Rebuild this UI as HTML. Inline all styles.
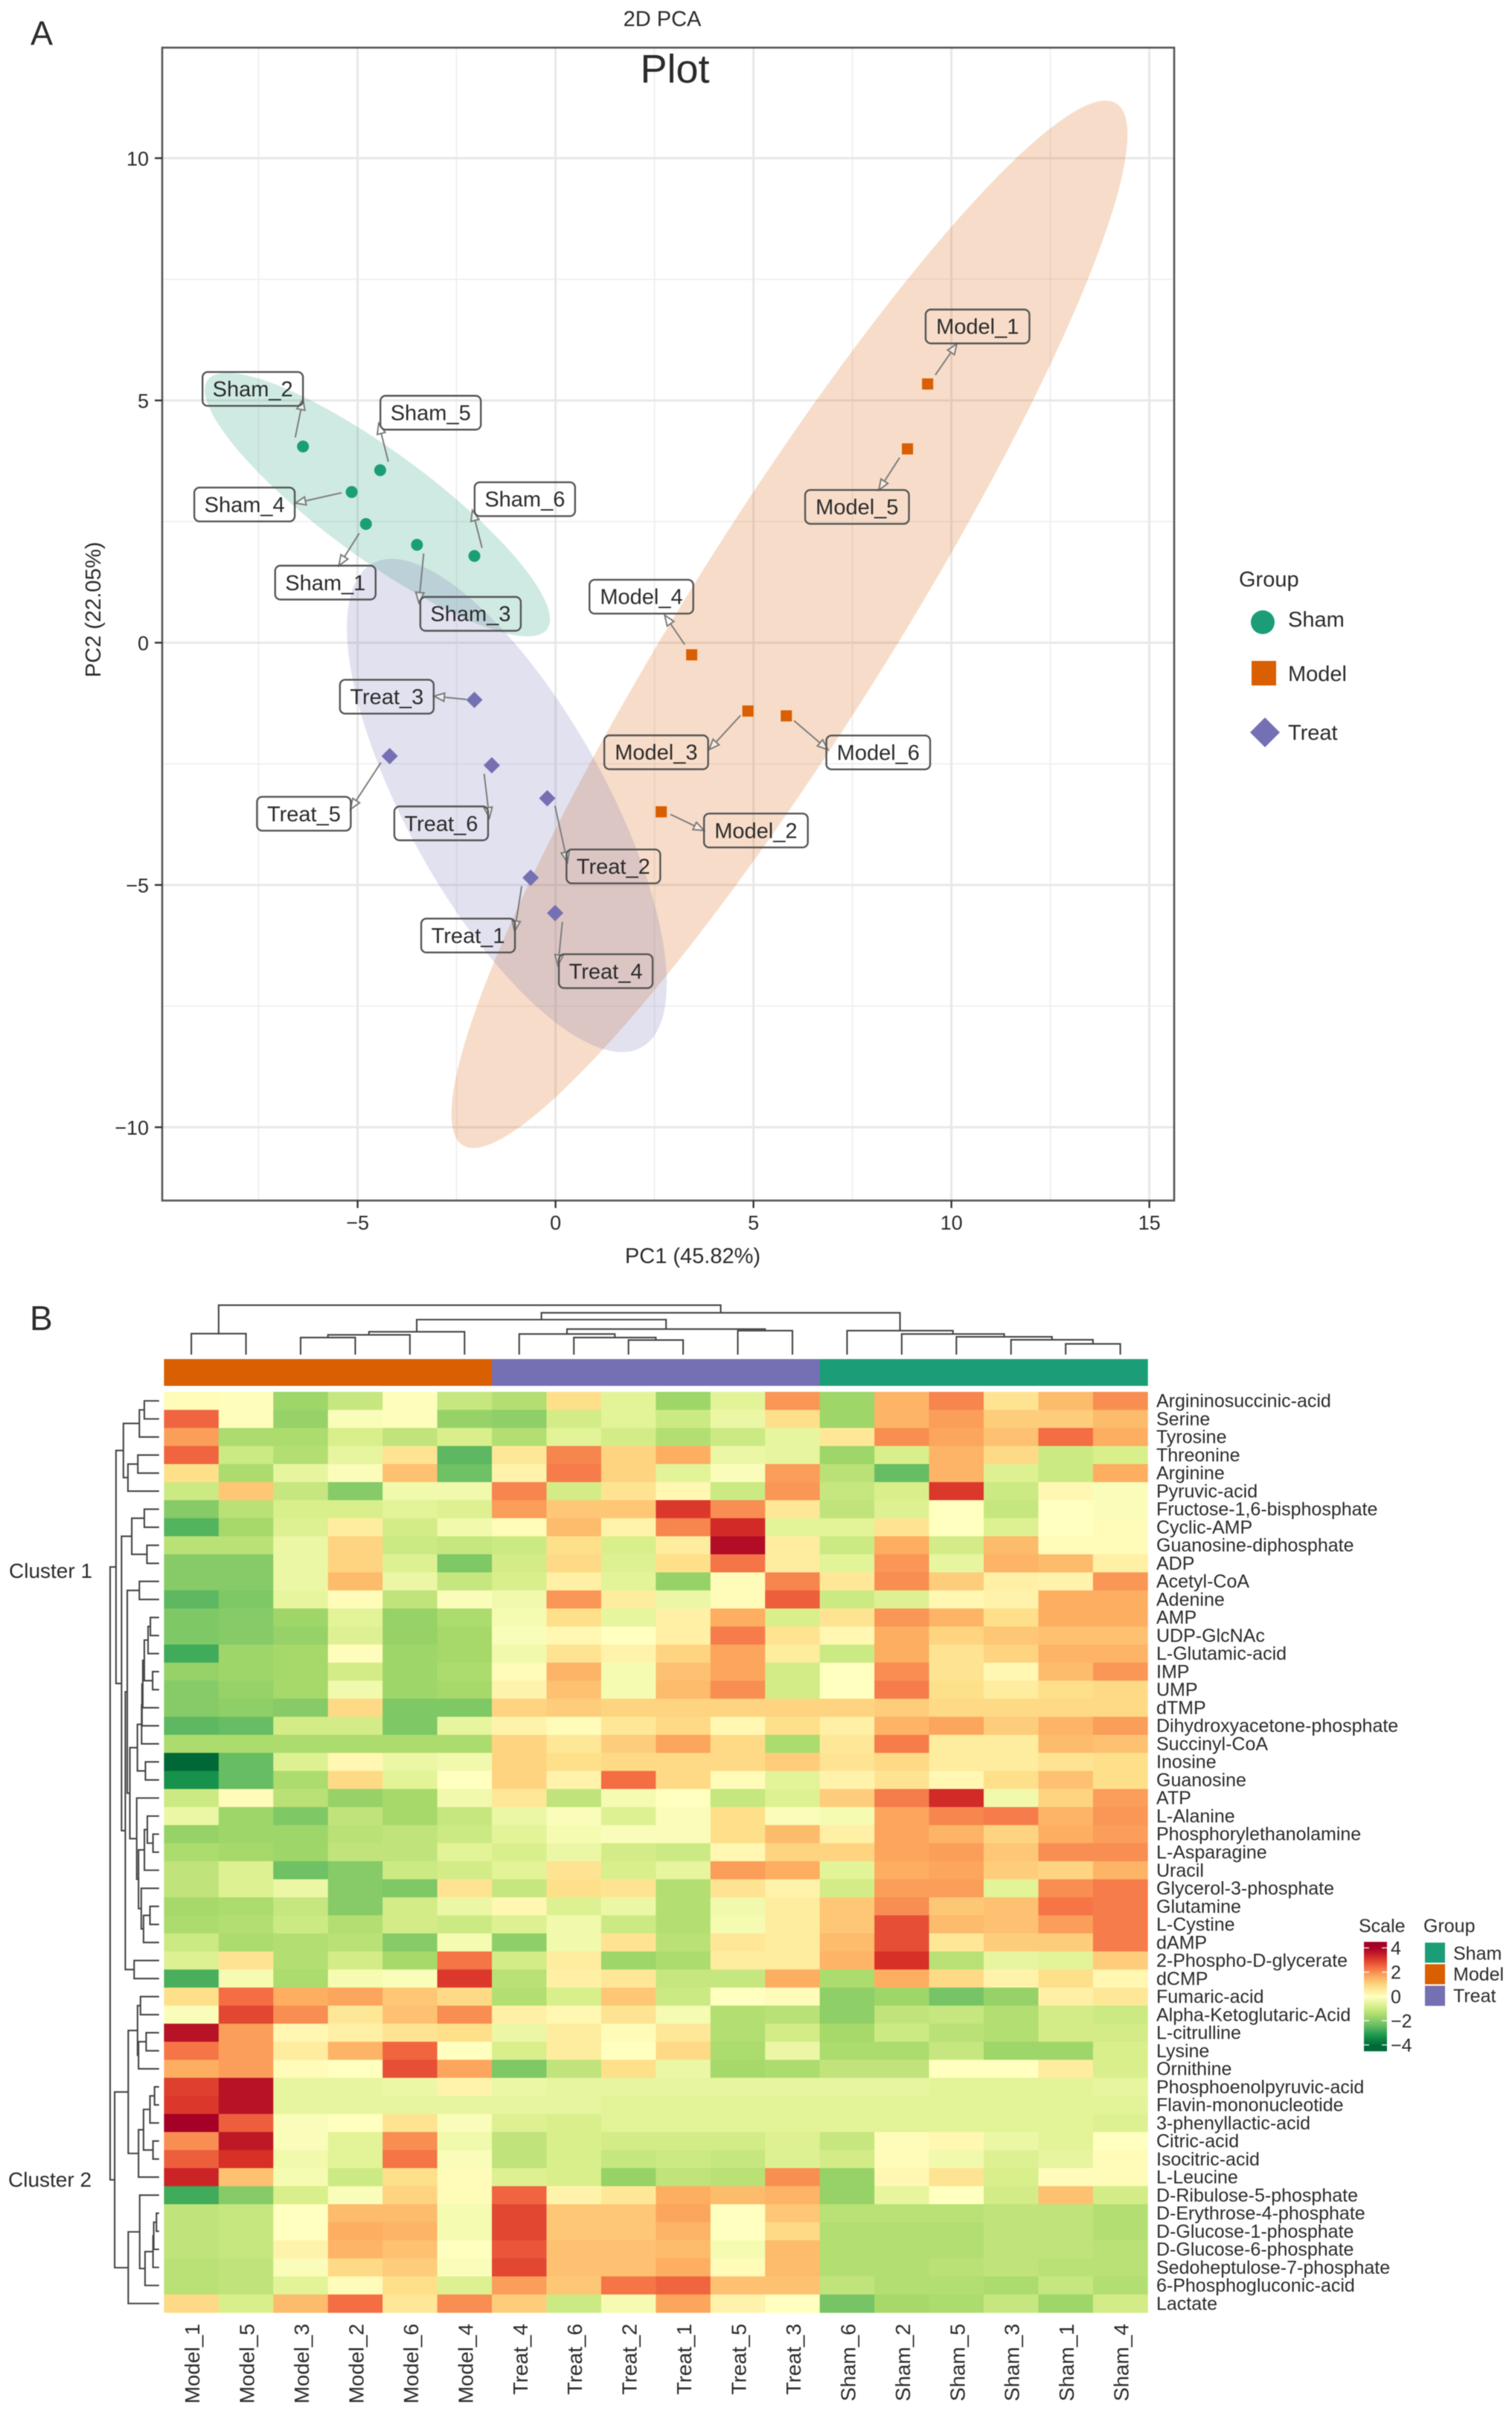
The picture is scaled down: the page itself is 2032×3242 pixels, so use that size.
<!DOCTYPE html>
<html lang="en">
<head>
<meta charset="utf-8">
<title>2D PCA and metabolite heatmap</title>
<style>
html,body{margin:0;padding:0;background:#fff;width:2032px;height:3242px;overflow:hidden}
svg{display:block;filter:blur(.6px)}
text{font-family:"Liberation Sans",sans-serif;fill:#2b2b2b}
</style>
</head>
<body>
<svg id="figure" xmlns="http://www.w3.org/2000/svg" width="2032" height="3242" viewBox="0 0 2032 3242">
  <defs>
    <linearGradient id="scale-gradient" x1="0" y1="0" x2="0" y2="1"></linearGradient>
  </defs>
  <rect x="0" y="0" width="2032" height="3242" fill="#fff"/>
  <text x="41" y="60" font-size="45" fill="#111">A</text>
  <text x="40" y="1787" font-size="46" fill="#111">B</text>
  <text x="890" y="35" font-size="29" text-anchor="middle">2D PCA</text>
  <g id="pca-grid"></g>
  <g id="pca-ellipses"></g>
  <g id="pca-arrows"></g>
  <g id="pca-points"></g>
  <g id="pca-labels"></g>
  <rect x="218" y="64" width="1360" height="1549" fill="none" stroke="#555" stroke-width="2.6"/>
  <text x="907" y="111" font-size="54" text-anchor="middle" fill="#1a1a1a">Plot</text>
  <g id="pca-axes"></g>
  <text x="931" y="1697" font-size="29" text-anchor="middle">PC1 (45.82%)</text>
  <text transform="translate(135,819) rotate(-90)" font-size="29" text-anchor="middle">PC2 (22.05%)</text>
  <g>
    <text x="1665" y="788" font-size="29">Group</text>
    <circle cx="1697" cy="836" r="16" fill="#1B9E77"/>
    <text x="1731" y="842" font-size="29">Sham</text>
    <rect x="1682" y="888" width="33" height="33" fill="#D95F02"/>
    <text x="1731" y="915" font-size="29">Model</text>
    <polygon points="1700,964 1720,984 1700,1004 1680,984" fill="#7570B3"/>
    <text x="1731" y="994" font-size="29">Treat</text>
  </g>

  <g id="top-dendrogram"></g>
  <g id="left-dendrogram"></g>
  <g id="group-bar"></g>
  <g id="heat-cells"></g>
  <g id="row-labels"></g>
  <g id="col-labels"></g>
  <text x="12" y="2120" font-size="28">Cluster 1</text>
  <text x="11" y="2938" font-size="28">Cluster 2</text>

  <g id="scale-legend">
    <text x="1826" y="2596" font-size="25">Scale</text>
    <rect x="1833" y="2609" width="31" height="147" fill="url(#scale-gradient)"/>
  </g>
  <g>
    <text x="1913" y="2596" font-size="25">Group</text>
    <rect x="1915" y="2610" width="27" height="27" fill="#1B9E77"/>
    <text x="1953" y="2633" font-size="25">Sham</text>
    <rect x="1915" y="2639" width="27" height="27" fill="#D95F02"/>
    <text x="1953" y="2661" font-size="25">Model</text>
    <rect x="1915" y="2668" width="27" height="27" fill="#7570B3"/>
    <text x="1953" y="2690" font-size="25">Treat</text>
  </g>
</svg>
<script>
// ---------- PCA data ----------
var xTicks = [-5, 0, 5, 10, 15];
var yTicks = [-10, -5, 0, 5, 10];
var xMinorGrid = [-7.5, -2.5, 2.5, 7.5, 12.5];
var yMinorGrid = [-7.5, -2.5, 2.5, 7.5];
var groupNames = ['Sham', 'Model', 'Treat'];
var shamIds = ['Sham_1', 'Sham_2', 'Sham_3', 'Sham_4', 'Sham_5', 'Sham_6'];
var shamPC1 = [-4.79, -6.38, -3.50, -5.15, -4.43, -2.05];
var shamPC2 = [2.45, 4.05, 2.02, 3.11, 3.56, 1.79];
var modelIds = ['Model_1', 'Model_2', 'Model_3', 'Model_4', 'Model_5', 'Model_6'];
var modelPC1 = [9.40, 2.67, 4.86, 3.44, 8.89, 5.83];
var modelPC2 = [5.34, -3.49, -1.41, -0.25, 4.00, -1.51];
var treatIds = ['Treat_1', 'Treat_2', 'Treat_3', 'Treat_4', 'Treat_5', 'Treat_6'];
var treatPC1 = [-0.63, -0.21, -2.05, -0.01, -4.19, -1.61];
var treatPC2 = [-4.85, -3.21, -1.18, -5.58, -2.34, -2.53];
// confidence ellipses, in PC units: Sham, Model, Treat
var ellipseCenterPC1 = [-4.50, 5.91, -1.23];
var ellipseCenterPC2 = [2.85, 0.38, -3.36];
var ellipseHalfPC1 = [4.36, 8.54, 4.04];
var ellipseHalfPC2 = [2.72, 10.81, 5.09];
var ellipseCorrelation = [-0.87, 0.935, -0.72];

// ---------- heatmap data ----------
var colLabels = ['Model_1','Model_5','Model_3','Model_2','Model_6','Model_4','Treat_4','Treat_6','Treat_2','Treat_1','Treat_5','Treat_3','Sham_6','Sham_2','Sham_5','Sham_3','Sham_1','Sham_4'];
var rowLabels = ['Argininosuccinic-acid','Serine','Tyrosine','Threonine','Arginine','Pyruvic-acid','Fructose-1,6-bisphosphate','Cyclic-AMP','Guanosine-diphosphate','ADP','Acetyl-CoA','Adenine','AMP','UDP-GlcNAc','L-Glutamic-acid','IMP','UMP','dTMP','Dihydroxyacetone-phosphate','Succinyl-CoA','Inosine','Guanosine','ATP','L-Alanine','Phosphorylethanolamine','L-Asparagine','Uracil','Glycerol-3-phosphate','Glutamine','L-Cystine','dAMP','2-Phospho-D-glycerate','dCMP','Fumaric-acid','Alpha-Ketoglutaric-Acid','L-citrulline','Lysine','Ornithine','Phosphoenolpyruvic-acid','Flavin-mononucleotide','3-phenyllactic-acid','Citric-acid','Isocitric-acid','L-Leucine','D-Ribulose-5-phosphate','D-Erythrose-4-phosphate','D-Glucose-1-phosphate','D-Glucose-6-phosphate','Sedoheptulose-7-phosphate','6-Phosphogluconic-acid','Lactate'];
var heatValues = [
[.1,.05,-1.7,-1.1,.05,-1.1,-1.4,.8,-.6,-1.7,-.6,1.9,-1.7,1.5,2.1,.7,1.4,2.0],
[2.5,.05,-1.8,-.1,.05,-1.8,-1.9,-.9,-.6,-1.0,-.4,.8,-1.7,1.5,1.8,1.1,1.1,1.4],
[1.8,-1.5,-1.5,-.8,-1.2,-.8,-1.4,-.6,-.9,-1.4,-1.0,-.5,.6,2.0,1.7,1.3,2.4,1.6],
[2.5,-1.0,-1.4,-.5,.7,-2.5,.6,2.1,1.0,1.6,-.4,-.5,-1.7,-.8,1.5,.9,-1.0,-.8],
[.8,-1.5,-.5,-.1,1.3,-2.3,.3,2.2,1.0,-.6,-.1,1.8,-1.3,-2.4,1.5,-.7,-1.0,1.6],
[-1.0,1.2,-1.1,-2.0,-.3,-.3,2.1,-.9,.7,.2,-1.0,1.9,-1.1,-.8,3.1,-1.0,.2,-.1],
[-2.0,-1.3,-.8,-.8,-.6,-.7,1.8,1.2,1.2,3.1,2.0,.6,-1.2,-.7,0,-1.1,0,-.1],
[-2.6,-1.6,-.7,.5,-.9,-.3,.1,1.4,.3,2.1,3.3,-.6,-.6,.7,0,-.7,0,.1],
[-1.3,-1.3,-.4,1.0,-1.0,-1.1,-1.0,.8,-.8,.5,3.8,.5,-1.0,1.6,-.9,1.4,.1,.1],
[-2.0,-2.0,-.4,1.0,-.7,-2.1,-.9,.9,-.7,.8,2.3,.5,-.6,1.9,-.5,1.5,1.4,.4],
[-2.0,-2.0,-.4,1.4,-.4,-1.1,-.8,.4,-.6,-1.8,.1,2.1,.6,2.0,1.1,.4,.3,1.9],
[-2.5,-2.1,-.5,.1,-1.2,-.1,-.3,1.9,.5,-.4,.1,2.6,-1.0,-.7,.2,.3,1.6,1.6],
[-2.1,-2.0,-1.7,-.6,-1.8,-1.5,-.2,.8,-.5,.4,1.6,-.8,.7,1.9,1.5,.8,1.6,1.6],
[-2.1,-2.0,-1.8,-.7,-1.8,-1.6,-.1,.2,0,.4,2.2,.7,.2,1.6,1.0,1.2,1.3,1.3],
[-2.8,-1.7,-1.6,.05,-1.7,-1.6,-.3,.7,.3,1.0,1.7,.5,-1.0,1.6,.7,1.0,1.5,1.5],
[-1.8,-1.7,-1.6,-.9,-1.7,-1.5,.1,1.5,-.2,1.3,1.7,-.9,0,2.0,.7,.2,1.4,1.9],
[-2.0,-1.8,-1.6,-.3,-1.7,-1.6,.3,1.3,-.2,1.4,2.0,-.9,0,2.2,.8,.5,.8,.9],
[-2.0,-1.9,-2.0,.9,-2.1,-2.1,1.0,1.1,1.0,1.0,1.0,1.0,1.0,1.1,.9,.9,.9,.9],
[-2.5,-2.4,-.9,-.9,-2.1,-.5,.3,.1,.6,.9,.2,.8,.4,1.5,1.7,1.1,1.5,1.8],
[-1.5,-1.5,-1.5,-1.5,-1.5,-1.5,1.0,.6,1.1,1.7,.9,-1.5,.6,2.2,.5,.5,1.4,1.3],
[-4,-2.4,-.7,.2,-.4,-.3,1.0,.8,.9,.9,.9,1.1,.7,.9,.5,.5,.7,.8],
[-3.3,-2.4,-1.5,.9,-.6,0,1.0,.3,2.4,.9,.1,-.6,.3,.7,.2,.8,1.3,.8],
[-1.0,.1,-1.3,-1.8,-1.6,-.3,.6,-1.2,-.2,0,-1.1,-.7,1.1,2.2,3.3,-.3,1.0,1.8],
[-.4,-1.7,-2.1,-1.2,-1.6,-1.1,-.4,-.1,-.7,-.1,.8,-.1,-.2,1.7,2.1,2.2,1.5,1.9],
[-1.8,-1.7,-1.7,-1.3,-1.2,-1.0,-.6,-.2,-.1,-.1,.8,1.4,.4,1.7,1.5,1.0,1.6,1.8],
[-1.5,-1.6,-1.7,-1.2,-1.2,-.6,-.8,-.4,-.9,-1.0,.2,1.0,1.0,1.7,1.8,1.2,2.0,2.0],
[-1.2,-.7,-2.3,-2.0,-1.0,-.9,-.6,.7,-.8,-.5,1.8,1.6,-.6,1.6,1.7,1.1,1.0,1.5],
[-1.2,-.7,-.4,-2.0,-2.1,.7,-1.1,.8,.7,-1.4,.7,.3,-.9,1.8,1.8,-.6,2.0,2.2],
[-1.6,-1.5,-1.1,-2.0,-.9,-.4,.2,-.7,-.4,-1.4,-.3,.5,1.2,2.0,1.2,1.3,2.3,2.2],
[-1.5,-1.4,-1.0,-1.4,-.9,-1.0,-.7,-.3,-1.0,-1.4,-.2,.5,1.2,2.8,1.4,1.3,1.8,2.2],
[-1.0,-1.5,-1.4,-1.3,-2.0,-.2,-1.9,-.3,.7,-1.3,.6,.5,1.4,2.8,.6,1.1,1.1,2.2],
[-.7,.7,-1.4,-.9,-1.6,2.3,-.9,.5,-1.7,-1.5,.5,.5,1.5,3.2,-1.3,-.5,-.6,1.1],
[-2.7,-.2,-1.5,-.2,-.1,3.1,-1.3,.4,.6,-1.1,-1.1,1.6,-1.5,1.6,.9,.3,.8,.2],
[.8,2.4,1.6,1.7,1.2,.9,-1.4,-.8,1.2,-1.0,0,.1,-1.9,-1.7,-2.2,-1.8,.4,.6],
[-.1,2.9,2.0,.6,1.3,2.0,.4,.2,.7,-.2,-1.4,-1.3,-1.9,-1.2,-1.1,-1.4,-.9,-1.0],
[3.7,1.8,.2,.4,.7,.8,-.4,.5,.1,.6,-1.4,-.9,-1.6,-1.0,-1.3,-1.4,-.9,-.9],
[2.3,1.8,.5,1.5,2.5,0,-.8,.5,0,.9,-1.5,-.4,-1.5,-1.5,-1.1,-1.7,-1.7,-.8],
[1.6,1.8,.1,0,2.8,1.7,-2.1,-1.2,.8,-.4,-1.6,-1.5,-1.2,-1.2,0,0,.5,-.8],
[3.0,3.7,-.5,-.5,-.4,.3,-.4,-.5,-.5,-.5,-.5,-.5,-.5,-.5,-.6,-.6,-.6,-.5],
[3.1,3.7,-.5,-.5,-.5,-.5,-.5,-.5,-.6,-.6,-.6,-.6,-.6,-.6,-.6,-.6,-.6,-.6],
[4,2.6,-.1,0,.7,-.1,-.7,-.8,-.6,-.6,-.6,-.6,-.6,-.6,-.6,-.6,-.6,-.7],
[2.0,3.6,-.1,-.6,2.0,-.3,-1.2,-.8,-.9,-.9,-.9,-.7,-1.1,.1,.2,-.4,-.6,0],
[2.6,3.2,-.3,-.6,2.3,-.1,-1.2,-.8,-1.1,-1.0,-1.1,-.7,-.9,.1,-.3,-.7,-.5,.1],
[3.4,1.3,-.2,-1.0,.8,.1,-.7,-.8,-1.8,-1.2,-1.3,2.0,-1.8,.2,.7,-.8,.1,.1],
[-2.8,-2.0,-.8,-.1,1.0,.1,2.5,.3,.6,1.6,1.4,1.5,-1.8,-.5,0,-.9,1.3,-.9],
[-1.2,-1.1,0,1.4,1.4,-.2,2.9,1.2,1.2,1.7,0,1.2,-1.3,-1.3,-1.3,-1.2,-1.2,-1.4],
[-1.2,-1.1,0,1.6,1.5,-.2,2.9,1.2,1.2,1.5,0,.9,-1.4,-1.4,-1.4,-1.2,-1.2,-1.4],
[-1.2,-1.1,.3,1.5,1.3,0,2.7,1.3,1.3,1.4,-.2,1.4,-1.4,-1.4,-1.4,-1.2,-1.2,-1.3],
[-1.3,-1.2,-.1,.9,1.1,-.1,2.9,1.3,1.3,1.6,.1,1.4,-1.4,-1.4,-1.3,-1.2,-1.3,-1.3],
[-1.3,-1.2,-.6,.1,.8,-.7,1.8,1.2,2.3,2.5,1.3,1.3,-1.2,-1.4,-1.4,-1.5,-1.1,-1.4],
[.9,-.8,1.4,2.4,.6,2.0,1.1,-1.0,-.2,1.7,.3,0,-2.2,-1.6,-1.5,-1.1,-1.7,-.9]
];
var scaleTicks = [4, 2, 0, -2, -4];
var scaleDomainMin = -4.5;
var scaleDomainMax = 4.5;
// column dendrogram: negative = leaf number, positive = earlier merge number
var colMergeA = [-1,-3,2,3,-9,-8,-7,-11,7,4,-17,-16,-15,-14,-13,10,1];
var colMergeB = [-2,-4,-5,-6,-10,5,6,-12,8,9,-18,11,12,13,14,15,16];
var colMergeHeight = [4.25,3.46,4.0,4.62,2.94,3.46,4.17,4.85,5.17,7.08,2.17,3.01,3.61,4.17,4.85,8.46,10];
// row dendrogram
var rowMergeA = [-1,1,-4,3,2,-7,-9,6,-11,-13,10,-16,11,13,14,15,-21,16,-25,-24,20,-29,22,-28,21,-23,18,9,-32,28,8,5,-34,-36,34,33,-39,37,-42,38,40,36,-46,43,44,45,-45,47,42,32];
var rowMergeB = [-2,-3,-5,-6,4,-8,-10,7,-12,-14,-15,-17,12,-18,-19,-20,-22,17,-26,19,-27,-30,-31,23,24,25,26,27,-33,29,30,31,-35,-37,-38,35,-40,-41,-43,39,-44,41,-47,-48,-49,-50,46,-51,48,49];
var rowMergeHeight = [3.02,4.03,4.34,6.36,7.29,3.02,2.48,5.58,4.03,1.78,2.25,1.32,3.02,3.33,3.49,3.57,2.79,4.43,1.24,2.40,3.0,1.86,3.18,3.64,4.2,4.57,5.97,6.5,5.1,6.9,7.67,8.8,3.8,2.64,4.2,4.4,.93,1.86,1.24,3.18,4.2,6.3,.54,1.09,1.24,2.87,3.96,6.3,9.07,10];

// ---------- layout and styling (not data) ----------
var NS = 'http://www.w3.org/2000/svg';
var groupColors = { Sham: '#1B9E77', Model: '#D95F02', Treat: '#7570B3' };
var paletteStops = ['#006837','#1A9850','#66BD63','#A6D96A','#D9EF8B','#FFFFBF','#FEE08B','#FDAE61','#F46D43','#D73027','#A50026'];
// label box and repel-arrow geometry relative to each mark: boxDx, boxDy, startDx, startDy, tipDx, tipDy
var repel = {
  Sham_1:[-122,56,-9,12.5,-36.4,56], Sham_2:[-135,-100,-10.4,-12,0,-63.4], Sham_3:[4.5,70,9,11.6,2.5,78],
  Sham_4:[-211.5,-6,-13.5,1,-75.9,15], Sham_5:[.3,-100,11,-11.4,-2,-63], Sham_6:[.3,-99,10.3,-11,-2.7,-61.4],
  Treat_1:[-147,55,-12,11.4,-21.5,72], Treat_2:[25.9,68.8,10.4,10.2,27.2,86.2], Treat_3:[-180.7,-27,-10.7,-.6,-54.4,-5],
  Treat_4:[5,55.3,9.7,11.9,3.8,70.3], Treat_5:[-178.3,54.7,-11.7,8.6,-52.7,71.5], Treat_6:[-131,55.3,-10.3,11.4,-3.2,70.7],
  Model_1:[-2.7,-100,10.3,-12,39.3,-54], Model_2:[57.5,2.4,12.3,3.4,57.5,25], Model_3:[-193,32.7,-10,6,-52.3,52],
  Model_4:[-137.4,-100.8,-9.4,-13.8,-36.4,-53.3], Model_5:[-137.5,55.2,-10.5,11.7,-38.5,55.2], Model_6:[53.8,26.4,10.3,6.4,55.9,45.4]
};
var boxWidths = { Sham: 135, Treat: 126, Model: 139.5 };
var BOX_H = 45.5;
var plot = { left: 218, right: 1578, top: 64, bottom: 1613 };
var heat = { left: 220.4, top: 1870, colW: 73.44, rowH: 24.255 };

function pcaX(v) { return 746.6 + 53.2 * v; }
function pcaY(v) { return 863.5 - 65.1 * v; }
function heatX(c) { return heat.left + c * heat.colW; }
function heatY(r) { return heat.top + r * heat.rowH; }
function topTreeY(h) { return 1820 - 6.64 * h; }
function leftTreeX(h) { return 213.8 - 6.58 * h; }
function scaleLegendY(v) { return 2682.3 - 16.3 * v; }

function make(parentId, tag, attrs, text) {
  var node = document.createElementNS(NS, tag);
  for (var k in attrs) { node.setAttribute(k, attrs[k]); }
  if (text !== undefined) { node.textContent = text; }
  document.getElementById(parentId).appendChild(node);
  return node;
}
function fmt(v) { return String(v).replace('-', '\u2212'); }
function hexToRgb(h) { return [parseInt(h.substr(1,2),16), parseInt(h.substr(3,2),16), parseInt(h.substr(5,2),16)]; }
function heatColor(v) {
  var t = (Math.max(-4, Math.min(4, v)) + 4) / 8 * (paletteStops.length - 1);
  var i = Math.min(Math.floor(t), paletteStops.length - 2);
  var f = t - i;
  var a = hexToRgb(paletteStops[i]);
  var b = hexToRgb(paletteStops[i + 1]);
  return 'rgb(' + Math.round(a[0] + (b[0] - a[0]) * f) + ',' + Math.round(a[1] + (b[1] - a[1]) * f) + ',' + Math.round(a[2] + (b[2] - a[2]) * f) + ')';
}

// ---------- PCA grid and axes ----------
xMinorGrid.forEach(function (v) {
  var el = make('pca-grid', 'line', { x1: pcaX(v), x2: pcaX(v), y1: plot.top, y2: plot.bottom, stroke: '#efefef', 'stroke-width': 1.8 });
  
  
});
yMinorGrid.forEach(function (v) {
  var el = make('pca-grid', 'line', { x1: plot.left, x2: plot.right, y1: pcaY(v), y2: pcaY(v), stroke: '#efefef', 'stroke-width': 1.8 });
  
  
});
xTicks.forEach(function (v) {
  var grid = make('pca-grid', 'line', { x1: pcaX(v), x2: pcaX(v), y1: plot.top, y2: plot.bottom, stroke: '#e8e8e8', 'stroke-width': 3 });
  
  
  var tick = make('pca-axes', 'line', { x1: pcaX(v), x2: pcaX(v), y1: plot.bottom, y2: plot.bottom + 10, stroke: '#333', 'stroke-width': 2.4 });
  
  
  var label = make('pca-axes', 'text', { x: pcaX(v), y: 1652, 'font-size': 27, 'text-anchor': 'middle' }, fmt(v));
  
  
});
yTicks.forEach(function (v) {
  var grid = make('pca-grid', 'line', { x1: plot.left, x2: plot.right, y1: pcaY(v), y2: pcaY(v), stroke: '#e8e8e8', 'stroke-width': 3 });
  
  
  var tick = make('pca-axes', 'line', { x1: plot.left - 10, x2: plot.left, y1: pcaY(v), y2: pcaY(v), stroke: '#333', 'stroke-width': 2.4 });
  
  
  var label = make('pca-axes', 'text', { x: 200, y: pcaY(v) + 10, 'font-size': 27, 'text-anchor': 'end' }, fmt(v));
  
  
});

// ---------- PCA ellipses ----------
var ellipseOrder = [1, 0, 2];
ellipseOrder.forEach(function (g) {
  var d = '';
  var rho = ellipseCorrelation[g];
  for (var i = 0; i <= 160; i++) {
    var t = i / 160 * 2 * Math.PI;
    var vx = ellipseCenterPC1[g] + ellipseHalfPC1[g] * Math.cos(t);
    var vy = ellipseCenterPC2[g] + ellipseHalfPC2[g] * (rho * Math.cos(t) + Math.sqrt(1 - rho * rho) * Math.sin(t));
    d += (i ? 'L' : 'M') + pcaX(vx).toFixed(1) + ' ' + pcaY(vy).toFixed(1);
  }
  var el = make('pca-ellipses', 'path', { d: d + 'Z', fill: groupColors[groupNames[g]], 'fill-opacity': 0.21 });
  
  
});

// ---------- PCA marks, arrows and labels ----------
function drawGroup(group, ids, pc1, pc2) {
  ids.forEach(function (id, i) {
    var px = pcaX(pc1[i]);
    var py = pcaY(pc2[i]);
    var r = repel[id];
    var color = groupColors[group];
    var mark;
    if (group === 'Sham') {
      mark = make('pca-points', 'circle', { cx: px, cy: py, r: 8, fill: color });
    } else if (group === 'Model') {
      mark = make('pca-points', 'rect', { x: px - 7.5, y: py - 7.5, width: 15, height: 15, fill: color });
    } else {
      mark = make('pca-points', 'polygon', { points: px + ',' + (py - 11) + ' ' + (px + 11) + ',' + py + ' ' + px + ',' + (py + 11) + ' ' + (px - 11) + ',' + py, fill: color });
    }
    
    

    var sx = px + r[2], sy = py + r[3], tx = px + r[4], ty = py + r[5];
    var ang = Math.atan2(ty - sy, tx - sx);
    var bx = tx - 14 * Math.cos(ang), by = ty - 14 * Math.sin(ang);
    var nx = -Math.sin(ang) * 5.5, ny = Math.cos(ang) * 5.5;
    var shaft = make('pca-arrows', 'line', { x1: sx, y1: sy, x2: bx, y2: by, stroke: '#7d7d7d', 'stroke-width': 2 });
    
    
    var head = make('pca-arrows', 'polygon', { points: tx + ',' + ty + ' ' + (bx + nx) + ',' + (by + ny) + ' ' + (bx - nx) + ',' + (by - ny), fill: '#fff', 'fill-opacity': 0.45, stroke: '#7d7d7d', 'stroke-width': 2 });
    
    

    var w = boxWidths[group];
    var box = make('pca-labels', 'rect', { x: px + r[0], y: py + r[1], width: w, height: BOX_H, rx: 7, fill: 'none', stroke: '#555', 'stroke-width': 2.4 });
    
    
    var label = make('pca-labels', 'text', { x: px + r[0] + w / 2, y: py + r[1] + BOX_H / 2 + 10, 'font-size': 29, 'text-anchor': 'middle', fill: '#333' }, id);
    
    
  });
}
drawGroup('Sham', shamIds, shamPC1, shamPC2);
drawGroup('Model', modelIds, modelPC1, modelPC2);
drawGroup('Treat', treatIds, treatPC1, treatPC2);

// ---------- heatmap ----------
heatValues.forEach(function (row, r) {
  row.forEach(function (v, c) {
    var cell = make('heat-cells', 'rect', { x: heatX(c), y: heatY(r), width: heat.colW + 0.4, height: heat.rowH + 0.4, fill: heatColor(v) });
    
    
  });
});
rowLabels.forEach(function (name, r) {
  var el = make('row-labels', 'text', { x: 1554, y: heatY(r) + heat.rowH / 2 + 8.5, 'font-size': 25, fill: '#333' }, name);
  
  
});
colLabels.forEach(function (name, c) {
  var x = heatX(c) + heat.colW / 2 + 11;
  var el = make('col-labels', 'text', { transform: 'translate(' + x + ',3122) rotate(-90)', 'font-size': 28, 'text-anchor': 'end', fill: '#333' }, name);
  
  
});
colLabels.forEach(function (name, c) {
  var seg = make('group-bar', 'rect', { x: heatX(c), y: 1826, width: heat.colW + 0.4, height: 36, fill: groupColors[name.split('_')[0]] });
  
  
});

// ---------- dendrograms ----------
function drawTree(parentId, mergeA, mergeB, mergeH, leafPos, heightPos, vertical, prefix) {
  var nodes = [];
  function resolve(ref) {
    return ref < 0 ? { pos: leafPos(-ref - 1), h: 0 } : nodes[ref - 1];
  }
  mergeA.forEach(function (a, i) {
    var ca = resolve(a);
    var cb = resolve(mergeB[i]);
    var h = mergeH[i];
    var d;
    if (vertical) {
      d = 'M' + ca.pos + ' ' + heightPos(ca.h) + 'V' + heightPos(h) + 'H' + cb.pos + 'V' + heightPos(cb.h);
    } else {
      d = 'M' + heightPos(ca.h) + ' ' + ca.pos + 'H' + heightPos(h) + 'V' + cb.pos + 'H' + heightPos(cb.h);
    }
    var el = make(parentId, 'path', { d: d, fill: 'none', stroke: '#444', 'stroke-width': 2.1 });
    
    
    nodes.push({ pos: (ca.pos + cb.pos) / 2, h: h });
  });
}
drawTree('top-dendrogram', colMergeA, colMergeB, colMergeHeight, function (i) { return heatX(i) + heat.colW / 2; }, topTreeY, true, 'column-dendrogram');
drawTree('left-dendrogram', rowMergeA, rowMergeB, rowMergeHeight, function (i) { return heatY(i) + heat.rowH / 2; }, leftTreeX, false, 'row-dendrogram');

// ---------- scale legend ----------
for (var s = 0; s <= 20; s++) {
  var stopValue = scaleDomainMax - (scaleDomainMax - scaleDomainMin) * s / 20;
  var stop = make('scale-gradient', 'stop', { offset: (s * 5) + '%', 'stop-color': heatColor(stopValue) });
  
  
}
scaleTicks.forEach(function (v) {
  var y = scaleLegendY(v);
  var left = make('scale-legend', 'line', { x1: 1833, x2: 1840, y1: y, y2: y, stroke: '#fff', 'stroke-opacity': 0.8, 'stroke-width': 1.6 });
  
  
  var right = make('scale-legend', 'line', { x1: 1857, x2: 1864, y1: y, y2: y, stroke: '#fff', 'stroke-opacity': 0.8, 'stroke-width': 1.6 });
  
  
  var label = make('scale-legend', 'text', { x: 1869, y: y + 9, 'font-size': 25 }, fmt(v));
  
  
});
</script>
</body>
</html>
